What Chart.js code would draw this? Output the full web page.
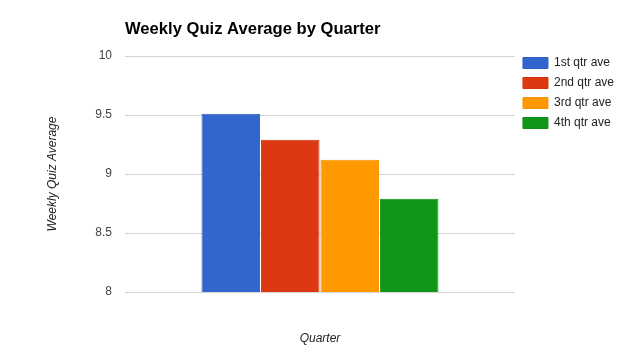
<!DOCTYPE html>
<html>
<head>
<meta charset="utf-8">
<script src="https://cdn.jsdelivr.net/npm/chart.js@4/dist/chart.umd.min.js"></script>
<style>
  html, body { margin: 0; padding: 0; background: #fff; }
  #wrap { width: 639px; height: 353px; position: relative; }
</style>
</head>
<body>
<div id="wrap"><canvas id="quiz-chart"></canvas></div>
<script>
// Chart values
const categories = [''];
const seriesNames = ['1st qtr ave', '2nd qtr ave', '3rd qtr ave', '4th qtr ave'];
const q1Values = [9.51];
const q2Values = [9.29];
const q3Values = [9.12];
const q4Values = [8.79];
const yTicks = [8, 8.5, 9, 9.5, 10];

const colors = ['#3366cc', '#dc3912', '#ff9900', '#109618'];
const borders = ['#2f5fc4', '#d4350f', '#f7940a', '#0e9016'];
const seriesValues = [q1Values, q2Values, q3Values, q4Values];

const FONT = '"Liberation Sans", Arial, sans-serif';

// Title drawn at chart area left like the original
const leftTitle = {
    id: 'leftTitle',
    afterDraw(chart) {
        const ctx = chart.ctx;
        ctx.save();
        ctx.fillStyle = '#000';
        ctx.font = 'bold 16.6px ' + FONT;
        ctx.textBaseline = 'alphabetic';
        ctx.textAlign = 'left';
        ctx.fillText('Weekly Quiz Average by Quarter', chart.chartArea.left, 34);
        ctx.restore();
    }
};

const ctx = document.getElementById('quiz-chart').getContext('2d');
new Chart(ctx, {
    type: 'bar',
    data: {
        labels: categories,
        datasets: seriesNames.map((name, i) => ({
            label: name,
            data: seriesValues[i],
            backgroundColor: colors[i],
            borderColor: borders[i],
            borderWidth: 1,
            categoryPercentage: 0.61,
            barPercentage: 0.985
        }))
    },
    options: {
        responsive: true,
        maintainAspectRatio: false,
        animation: false,
        layout: {
            padding: { top: 49, left: 45, right: 15, bottom: 0 }
        },
        scales: {
            x: {
                grid: { display: false },
                border: { display: false },
                ticks: { display: false },
                title: {
                    display: true,
                    text: 'Quarter',
                    color: '#222',
                    font: { family: FONT, size: 12, style: 'italic' },
                    padding: { top: 0, bottom: 7 }
                },
                afterFit(scale) { scale.height = 61; }
            },
            y: {
                min: 8,
                max: 10,
                afterBuildTicks(scale) { scale.ticks = yTicks.map(v => ({ value: v })); },
                grid: { color: '#d4d4d4', lineWidth: 1, drawTicks: false },
                border: { display: false },
                ticks: {
                    color: '#444',
                    padding: 13,
                    font: { family: FONT, size: 12 },
                    callback: (v) => String(v)
                },
                title: {
                    display: true,
                    text: 'Weekly Quiz Average',
                    color: '#222',
                    font: { family: FONT, size: 12, style: 'italic' },
                    padding: { top: 0, bottom: 0 }
                },
                afterFit(scale) { scale.width = 125 - 45; }
            }
        },
        plugins: {
            // empty title used only as a 7px spacer above the plot, so the
            // legend (full height) can start a bit higher than the grid
            title: {
                display: true,
                fullSize: false,
                text: '',
                padding: 0,
                font: { size: 7, lineHeight: 1 }
            },
            tooltip: { enabled: false },
            legend: {
                display: true,
                position: 'right',
                align: 'start',
                labels: {
                    color: '#222',
                    boxWidth: 25,
                    boxHeight: 11,
                    padding: 8,
                    font: { family: FONT, size: 12 }
                }
            }
        }
    },
    plugins: [leftTitle]
});
</script>
</body>
</html>
